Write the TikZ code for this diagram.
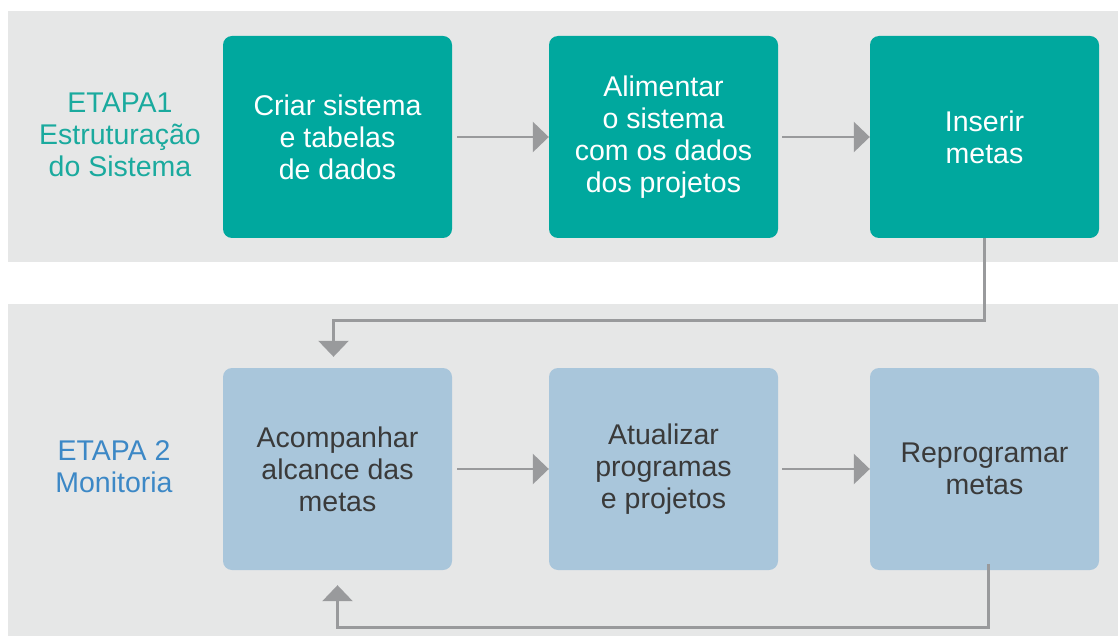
\documentclass[tikz,border=0pt]{standalone}
\usepackage{fontspec}
\setmainfont{Liberation Sans}
\usetikzlibrary{arrows.meta,calc}
\definecolor{bandgray}{HTML}{E6E7E7}
\definecolor{tealbox}{HTML}{00A89E}
\definecolor{bluebox}{HTML}{A9C6DB}
\definecolor{arrowgray}{HTML}{999A9C}
\definecolor{tealtext}{HTML}{1AAA9E}
\definecolor{bluetext}{HTML}{3C88C6}
\definecolor{darktext}{HTML}{3A3A3A}
\tikzset{
  boxbase/.style={minimum width=229pt, minimum height=202pt, rounded corners=9pt,
    align=center, inner sep=0pt, font=\fontsize{28.5}{32}\selectfont},
  topbox/.style={boxbase, fill=tealbox, text=white},
  botbox/.style={boxbase, fill=bluebox, text=darktext},
  stagelabel/.style={align=center, inner sep=0pt, font=\fontsize{28.5}{32}\selectfont},
  conn/.style={draw=arrowgray, line width=2.6pt, -{Triangle[length=16pt,width=30pt]}},
}
\begin{document}
\begin{tikzpicture}[x=1pt,y=-1pt]
\useasboundingbox (0,0) rectangle (1118,636);
\fill[bandgray] (8,11) rectangle (1118,262);
\fill[bandgray] (8,304) rectangle (1118,636);

\node[stagelabel, text=tealtext] (e1) at (120,135) {ETAPA1\\Estruturação\\do Sistema};
\node[stagelabel, text=bluetext] (e2) at (114,467) {ETAPA 2\\Monitoria};

\node[topbox] (b1) at (337.5,137) {Criar sistema\\e tabelas\\de dados};
\node[topbox] (b2) at (663.5,137) {Alimentar\\o sistema\\com os dados\\dos projetos};
\node[topbox] (b3) at (984.5,137) {Inserir\\metas};

\node[botbox] (b4) at (337.5,469) {Acompanhar\\alcance das\\metas};
\node[botbox] (b5) at (663.5,469) {Atualizar\\programas\\e projetos};
\node[botbox] (b6) at (984.5,469) {Reprogramar\\metas};

\draw[conn] ([xshift=5pt]b1.east) -- (b2.west);
\draw[conn] ([xshift=4pt]b2.east) -- (b3.west);
\draw[conn] ([xshift=5pt]b4.east) -- (b5.west);
\draw[conn] ([xshift=4pt]b5.east) -- (b6.west);

\coordinate (t4) at ([xshift=-4pt,yshift=11pt]b4.north);
\draw[conn] (b3.south) -- ++(0,82) -| (t4);

\coordinate (s6) at ([xshift=4pt,yshift=6pt]b6.south);
\coordinate (t4b) at ([yshift=-15pt]b4.south);
\draw[conn] (s6) -- ++(0,63) -| (t4b);
\end{tikzpicture}
\end{document}
